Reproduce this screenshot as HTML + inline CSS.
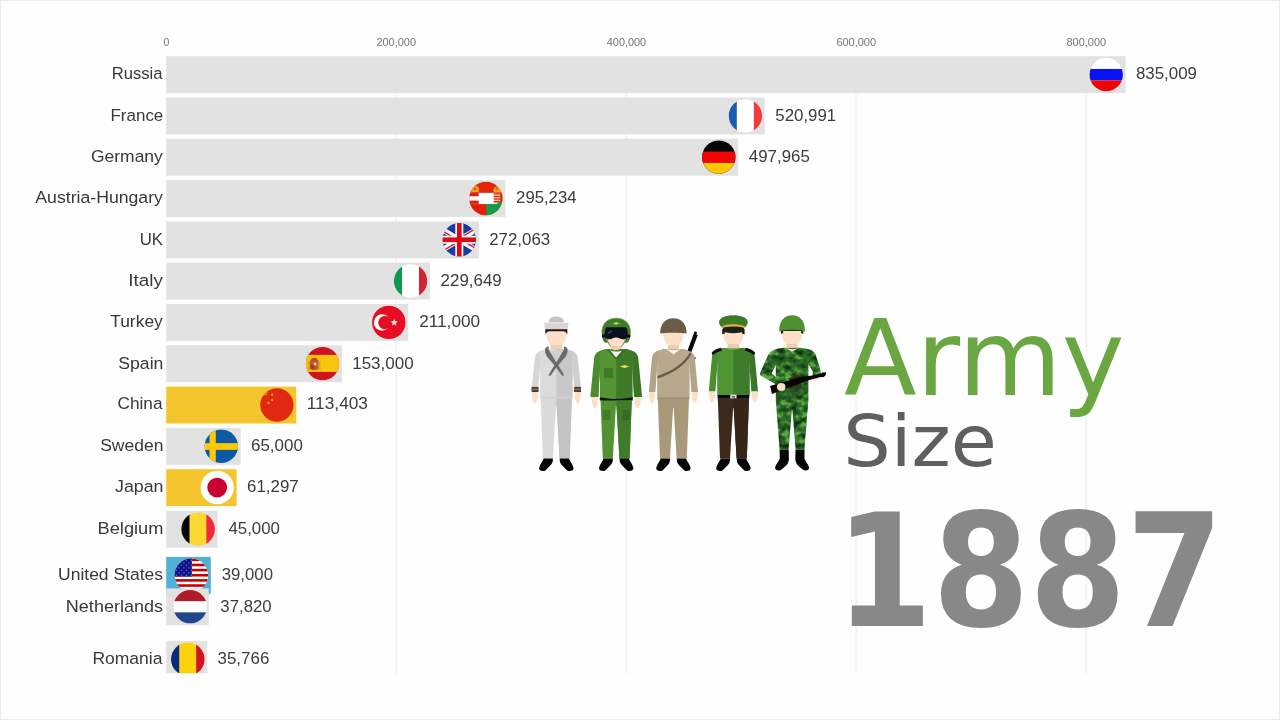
<!DOCTYPE html>
<html lang="en">
<head>
<meta charset="utf-8">
<title>Army Size 1887</title>
<style>
html,body{margin:0;padding:0;background:#fff;overflow:hidden;}
body{width:1280px;height:720px;overflow:hidden;position:relative;}
svg{display:block;position:absolute;left:0;top:0;}
text{white-space:pre;}
.lbl{font-family:"Liberation Sans",sans-serif;font-size:16.7px;fill:#383838;}
.val{font-family:"Liberation Sans",sans-serif;font-size:16.7px;fill:#3c3c3c;}
.tick{font-family:"Liberation Sans",sans-serif;font-size:10.5px;fill:#757575;}
.t1{font-family:"DejaVu Sans","Liberation Sans",sans-serif;font-size:105.3px;fill:#6aa641;}
.t2{font-family:"DejaVu Sans","Liberation Sans",sans-serif;font-size:72px;fill:#5f5f5f;}
.t3{font-family:"DejaVu Sans","Liberation Sans",sans-serif;font-weight:bold;font-size:156.8px;fill:#888;}
</style>
</head>
<body>
<svg width="1280" height="720" viewBox="0 0 1280 720">
<defs>
<clipPath id="plot"><rect x="0" y="0" width="1280" height="673.3"/></clipPath>
<clipPath id="circ"><circle cx="0" cy="0" r="16.7"/></clipPath>
</defs>
<rect x="0" y="0" width="1280" height="720" fill="#fefefe"/>
<rect x="0.5" y="0.5" width="1279" height="719" fill="none" stroke="#ebebeb" stroke-width="1"/>
<g fill="#f3f3f3">
<rect x="395.3" y="55" width="2" height="618.3"/>
<rect x="625.3" y="55" width="2" height="618.3"/>
<rect x="855.3" y="55" width="2" height="618.3"/>
<rect x="1085.3" y="55" width="2" height="618.3"/>
</g>
<g class="tick">
<text x="163.4" y="46" textLength="5.8" lengthAdjust="spacingAndGlyphs">0</text>
<text x="376.4" y="46" textLength="39.7" lengthAdjust="spacingAndGlyphs">200,000</text>
<text x="606.8" y="46" textLength="39.4" lengthAdjust="spacingAndGlyphs">400,000</text>
<text x="836.4" y="46" textLength="39.7" lengthAdjust="spacingAndGlyphs">600,000</text>
<text x="1066.5" y="46" textLength="39.6" lengthAdjust="spacingAndGlyphs">800,000</text>
</g>
<g clip-path="url(#plot)">
<rect x="166.2" y="56.20" width="959.4" height="36.9" fill="#e2e2e2"/><g transform="translate(1106.2 74.55)"><g clip-path="url(#circ)"><rect x="-17" y="-17" width="34" height="34" fill="#fff"/><rect x="-17" y="-5.6" width="34" height="11.30" fill="#0a14f2"/><rect x="-17" y="5.7" width="34" height="11.30" fill="#ee0606"/></g></g>
<rect x="166.2" y="97.50" width="598.6" height="36.9" fill="#e2e2e2"/><g transform="translate(745.4 115.85)"><g clip-path="url(#circ)"><rect x="-17" y="-17" width="34" height="34" fill="#fff"/><rect x="-17" y="-17" width="8.40" height="34" fill="#1c5cb0"/><rect x="8.4" y="-17" width="8.60" height="34" fill="#f03c3c"/></g></g>
<rect x="166.2" y="138.80" width="572.0" height="36.9" fill="#e2e2e2"/><g transform="translate(718.8 157.15)"><g clip-path="url(#circ)"><rect x="-17" y="-17" width="34" height="34" fill="#050505"/><rect x="-17" y="-5.6" width="34" height="11.30" fill="#ee0606"/><rect x="-17" y="5.7" width="34" height="11.30" fill="#fcc900"/></g></g>
<rect x="166.2" y="180.10" width="339.1" height="36.9" fill="#e2e2e2"/><g transform="translate(485.9 198.45)"><g clip-path="url(#circ)"><rect x="-17" y="-17" width="34" height="34" fill="#e2260c"/><rect x="-17" y="5.6" width="17.2" height="12" fill="#e2200c"/><rect x="0.2" y="5.6" width="17" height="12" fill="#169a4a"/><rect x="-17" y="-5.6" width="34" height="11.2" fill="#fff"/><rect x="-16.4" y="-5.4" width="9.2" height="3.2" fill="#d8200c"/><rect x="-16.4" y="2.2" width="9.2" height="3.2" fill="#d8200c"/><rect x="7.8" y="-5.6" width="9" height="11" fill="#f6c8b4"/><rect x="7.8" y="-5.2" width="7" height="1.3" fill="#d8300c"/><rect x="7.8" y="-2.6" width="7" height="1.3" fill="#d8300c"/><rect x="7.8" y="0.0" width="7" height="1.3" fill="#d8300c"/><rect x="7.8" y="2.6" width="7" height="1.3" fill="#d8300c"/><rect x="14.4" y="-5.6" width="2.6" height="9" fill="#c8280c"/><path d="M13,3.6 L17,3.6 L17,5.6 L11,5.6 Z" fill="#3f8a3a"/><path d="M-14.6,-6.4 C-15,-9.6 -13,-12 -10.4,-12.6 C-8.4,-12.6 -6.8,-11 -6.8,-8.6 L-7.4,-6.4 Z" fill="#f2a51c"/><circle cx="-10.8" cy="-9.6" r="1.3" fill="#e04a10"/><path d="M7.8,-6.4 C7,-9 8.4,-11.6 10.6,-12 C13,-11.6 15.4,-9.6 16,-6.4 Z" fill="#f2a51c"/><circle cx="10.8" cy="-10" r="1.3" fill="#e8561c"/></g></g>
<rect x="166.2" y="221.40" width="312.7" height="36.9" fill="#e2e2e2"/><g transform="translate(459.3 239.75)"><g clip-path="url(#circ)"><rect x="-17" y="-17" width="34" height="34" fill="#173c9f"/><path d="M-28.3,-17 L28.3,17 M28.3,-17 L-28.3,17" stroke="#fff" stroke-width="5.2" fill="none"/><path d="M-28.3,-17 L0,0" stroke="#cf2438" stroke-width="1.5" transform="translate(-0.6 0.9)"/><path d="M0,0 L28.3,17" stroke="#cf2438" stroke-width="1.5" transform="translate(0.6 -0.9)"/><path d="M28.3,-17 L0,0" stroke="#cf2438" stroke-width="1.5" transform="translate(-0.6 -0.9)"/><path d="M0,0 L-28.3,17" stroke="#cf2438" stroke-width="1.5" transform="translate(0.6 0.9)"/><rect x="-4" y="-17" width="8" height="34" fill="#fff"/><rect x="-17" y="-4" width="34" height="8" fill="#fff"/><rect x="-2.35" y="-17" width="4.7" height="34" fill="#e00612"/><rect x="-17" y="-2.35" width="34" height="4.7" fill="#e00612"/></g></g>
<rect x="166.2" y="262.70" width="263.8" height="36.9" fill="#e2e2e2"/><g transform="translate(410.6 281.05)"><g clip-path="url(#circ)"><rect x="-17" y="-17" width="34" height="34" fill="#fff"/><rect x="-17" y="-17" width="8.40" height="34" fill="#0f994c"/><rect x="8.4" y="-17" width="8.60" height="34" fill="#cf2636"/></g></g>
<rect x="166.2" y="304.00" width="242.0" height="36.9" fill="#e2e2e2"/><g transform="translate(388.8 322.35)"><g clip-path="url(#circ)"><rect x="-17" y="-17" width="34" height="34" fill="#e80c22"/><circle cx="-6.8" cy="0.2" r="8.2" fill="#fff"/><circle cx="-4" cy="0.2" r="6.6" fill="#e80c22"/><polygon points="8.82,-0.81 6.94,0.80 7.52,3.21 5.40,1.92 3.28,3.21 3.86,0.80 1.98,-0.81 4.45,-1.01 5.40,-3.30 6.35,-1.01" fill="#fff"/></g></g>
<rect x="166.2" y="345.30" width="175.7" height="36.9" fill="#e2e2e2"/><g transform="translate(322.5 363.65)"><g clip-path="url(#circ)"><rect x="-17" y="-17" width="34" height="34" fill="#cf1320"/><rect x="-17" y="-8.8" width="34" height="17.10" fill="#f8c40e"/><rect x="-12.6" y="-4.6" width="8.6" height="11" rx="2.4" fill="#b9582a"/><rect x="-14.4" y="-2.6" width="1.8" height="9" fill="#d8a02a"/><rect x="-3.6" y="-2.6" width="1.6" height="9" fill="#d8a02a"/><rect x="-11" y="-5.6" width="5.4" height="2.4" rx="1" fill="#b8481c"/><circle cx="-7.4" cy="0.4" r="1.6" fill="#e8d0c0"/><rect x="-11.6" y="1" width="3.4" height="4" fill="#a83a20"/></g></g>
<rect x="166.2" y="386.60" width="130.1" height="36.9" fill="#f5c52d"/><g transform="translate(276.9 404.95)"><g clip-path="url(#circ)"><rect x="-17" y="-17" width="34" height="34" fill="#e02a10"/><polygon points="-11.60,-15.00 -10.80,-12.70 -8.37,-12.65 -10.31,-11.18 -9.60,-8.85 -11.60,-10.24 -13.60,-8.85 -12.89,-11.18 -14.83,-12.65 -12.40,-12.70" fill="#f0901c"/><circle cx="-4.8" cy="-10.3" r="1.25" fill="#fb8a3c"/><circle cx="-4.7" cy="-5" r="1.25" fill="#fb8a3c"/><circle cx="-8.4" cy="-1.9" r="1.25" fill="#fb8a3c"/></g></g>
<rect x="166.2" y="427.90" width="74.5" height="36.9" fill="#e2e2e2"/><g transform="translate(221.3 446.25)"><g clip-path="url(#circ)"><rect x="-17" y="-17" width="34" height="34" fill="#0c5aa6"/><rect x="-11.8" y="-17" width="6.30" height="34" fill="#fdc902"/><rect x="-17" y="-3.1" width="34" height="6.70" fill="#fdc902"/></g></g>
<rect x="166.2" y="469.20" width="70.4" height="36.9" fill="#f5c52d"/><g transform="translate(217.2 487.55)"><g clip-path="url(#circ)"><rect x="-17" y="-17" width="34" height="34" fill="#fff"/><circle cx="0" cy="0" r="9.9" fill="#cb0032"/></g></g>
<rect x="166.2" y="510.80" width="51.3" height="36.9" fill="#e2e2e2"/><g transform="translate(198.1 529.15)"><g clip-path="url(#circ)"><rect x="-17" y="-17" width="34" height="34" fill="#fbd930"/><rect x="-17" y="-17" width="8.40" height="34" fill="#060606"/><rect x="8.3" y="-17" width="8.70" height="34" fill="#ee2a3e"/></g></g>
<rect x="166.2" y="556.90" width="44.6" height="36.9" fill="#4fb1d8"/><g transform="translate(191.4 575.25)"><g clip-path="url(#circ)"><rect x="-17" y="-17" width="34" height="34" fill="#fff"/><rect x="-17" y="-16.70" width="34" height="2.57" fill="#c40202"/><rect x="-17" y="-11.56" width="34" height="2.57" fill="#c40202"/><rect x="-17" y="-6.42" width="34" height="2.57" fill="#c40202"/><rect x="-17" y="-1.28" width="34" height="2.57" fill="#c40202"/><rect x="-17" y="3.85" width="34" height="2.57" fill="#c40202"/><rect x="-17" y="8.99" width="34" height="2.57" fill="#c40202"/><rect x="-17" y="14.13" width="34" height="2.57" fill="#c40202"/><rect x="-17" y="-17" width="17.4" height="18.28" fill="#10107e"/><rect x="-15.6" y="-15.6" width="1.3" height="1.3" fill="#6c6cf0"/><rect x="-10.6" y="-15.6" width="1.3" height="1.3" fill="#6c6cf0"/><rect x="-5.6" y="-15.6" width="1.3" height="1.3" fill="#6c6cf0"/><rect x="-0.6" y="-15.6" width="1.3" height="1.3" fill="#6c6cf0"/><rect x="-13.1" y="-13.1" width="1.3" height="1.3" fill="#6c6cf0"/><rect x="-8.1" y="-13.1" width="1.3" height="1.3" fill="#6c6cf0"/><rect x="-3.1" y="-13.1" width="1.3" height="1.3" fill="#6c6cf0"/><rect x="-15.6" y="-10.6" width="1.3" height="1.3" fill="#6c6cf0"/><rect x="-10.6" y="-10.6" width="1.3" height="1.3" fill="#6c6cf0"/><rect x="-5.6" y="-10.6" width="1.3" height="1.3" fill="#6c6cf0"/><rect x="-0.6" y="-10.6" width="1.3" height="1.3" fill="#6c6cf0"/><rect x="-13.1" y="-8.1" width="1.3" height="1.3" fill="#6c6cf0"/><rect x="-8.1" y="-8.1" width="1.3" height="1.3" fill="#6c6cf0"/><rect x="-3.1" y="-8.1" width="1.3" height="1.3" fill="#6c6cf0"/><rect x="-15.6" y="-5.6" width="1.3" height="1.3" fill="#6c6cf0"/><rect x="-10.6" y="-5.6" width="1.3" height="1.3" fill="#6c6cf0"/><rect x="-5.6" y="-5.6" width="1.3" height="1.3" fill="#6c6cf0"/><rect x="-0.6" y="-5.6" width="1.3" height="1.3" fill="#6c6cf0"/><rect x="-13.1" y="-3.1" width="1.3" height="1.3" fill="#6c6cf0"/><rect x="-8.1" y="-3.1" width="1.3" height="1.3" fill="#6c6cf0"/><rect x="-3.1" y="-3.1" width="1.3" height="1.3" fill="#6c6cf0"/><rect x="-15.6" y="-0.6" width="1.3" height="1.3" fill="#6c6cf0"/><rect x="-10.6" y="-0.6" width="1.3" height="1.3" fill="#6c6cf0"/><rect x="-5.6" y="-0.6" width="1.3" height="1.3" fill="#6c6cf0"/><rect x="-0.6" y="-0.6" width="1.3" height="1.3" fill="#6c6cf0"/></g></g>
<rect x="166.2" y="588.40" width="42.6" height="36.9" fill="#e2e2e2"/><g transform="translate(190.2 606.75)"><g clip-path="url(#circ)"><rect x="-17" y="-17" width="34" height="34" fill="#fff"/><rect x="-17" y="-17" width="34" height="11.40" fill="#ae1c2a"/><rect x="-17" y="5.6" width="34" height="11.40" fill="#21468c"/></g></g>
<rect x="166.2" y="640.90" width="41.0" height="36.9" fill="#e2e2e2"/><g transform="translate(187.8 659.25)"><g clip-path="url(#circ)"><rect x="-17" y="-17" width="34" height="34" fill="#fcd20e"/><rect x="-17" y="-17" width="8.40" height="34" fill="#062a80"/><rect x="8.4" y="-17" width="8.60" height="34" fill="#d21228"/></g></g>
</g>
<g class="lbl">
<text x="111.7" y="79" textLength="50.9" lengthAdjust="spacingAndGlyphs">Russia</text>
<text x="110.5" y="121" textLength="52.8" lengthAdjust="spacingAndGlyphs">France</text>
<text x="91.0" y="162" textLength="71.8" lengthAdjust="spacingAndGlyphs">Germany</text>
<text x="35.3" y="203" textLength="127.6" lengthAdjust="spacingAndGlyphs">Austria-Hungary</text>
<text x="139.7" y="245" textLength="23.3" lengthAdjust="spacingAndGlyphs">UK</text>
<text x="128.3" y="286" textLength="34.6" lengthAdjust="spacingAndGlyphs">Italy</text>
<text x="110.2" y="327" textLength="52.6" lengthAdjust="spacingAndGlyphs">Turkey</text>
<text x="118.3" y="369" textLength="45.1" lengthAdjust="spacingAndGlyphs">Spain</text>
<text x="117.5" y="409" textLength="45.0" lengthAdjust="spacingAndGlyphs">China</text>
<text x="100.2" y="451" textLength="63.2" lengthAdjust="spacingAndGlyphs">Sweden</text>
<text x="115.0" y="492" textLength="48.4" lengthAdjust="spacingAndGlyphs">Japan</text>
<text x="97.5" y="534" textLength="66.0" lengthAdjust="spacingAndGlyphs">Belgium</text>
<text x="58.0" y="580" textLength="105.1" lengthAdjust="spacingAndGlyphs">United States</text>
<text x="65.8" y="612" textLength="97.3" lengthAdjust="spacingAndGlyphs">Netherlands</text>
<text x="92.4" y="664" textLength="70.1" lengthAdjust="spacingAndGlyphs">Romania</text>
</g>
<g class="val">
<text x="1135.9" y="79" textLength="61.1" lengthAdjust="spacingAndGlyphs">835,009</text>
<text x="775.3" y="121" textLength="60.9" lengthAdjust="spacingAndGlyphs">520,991</text>
<text x="748.8" y="162" textLength="61.0" lengthAdjust="spacingAndGlyphs">497,965</text>
<text x="516.1" y="203" textLength="60.4" lengthAdjust="spacingAndGlyphs">295,234</text>
<text x="489.2" y="245" textLength="61.0" lengthAdjust="spacingAndGlyphs">272,063</text>
<text x="440.6" y="286" textLength="61.2" lengthAdjust="spacingAndGlyphs">229,649</text>
<text x="419.2" y="327" textLength="60.9" lengthAdjust="spacingAndGlyphs">211,000</text>
<text x="352.2" y="369" textLength="61.5" lengthAdjust="spacingAndGlyphs">153,000</text>
<text x="306.8" y="409" textLength="61.2" lengthAdjust="spacingAndGlyphs">113,403</text>
<text x="251.0" y="451" textLength="51.9" lengthAdjust="spacingAndGlyphs">65,000</text>
<text x="247.0" y="492" textLength="51.7" lengthAdjust="spacingAndGlyphs">61,297</text>
<text x="228.4" y="534" textLength="51.6" lengthAdjust="spacingAndGlyphs">45,000</text>
<text x="221.7" y="580" textLength="51.3" lengthAdjust="spacingAndGlyphs">39,000</text>
<text x="220.3" y="612" textLength="51.4" lengthAdjust="spacingAndGlyphs">37,820</text>
<text x="217.5" y="664" textLength="51.8" lengthAdjust="spacingAndGlyphs">35,766</text>
</g>
<g id="soldiers">
<rect x="622" y="318.6" width="9" height="152.8" fill="#fefefe"/>
<g transform="translate(556.3 0)"><rect x="-5.4" y="342" width="10.8" height="9" fill="#efcdb0"/><path d="M-10.2,328.0 L10.2,328.0 L10.2,334.0 C10,339.0 8,343.0 5,345.6 C3.4,347.0 1.6,347.6 0,347.6 C-1.6,347.6 -3.4,347.0 -5,345.6 C-8,343.0 -10,339.0 -10.2,334.0 Z" fill="#fbdfc6"/><path d="M-9,349.2 C-15,350.0 -20.6,351.6 -21.4,357.5 L-24.6,387.2 L-18,387.2 L-16,364 Z" fill="#d6d6d6"/><path d="M9,349.2 C15,350.0 20.6,351.6 21.4,357.5 L24.6,387.2 L18,387.2 L16,364 Z" fill="#cfcfcf"/><path d="M-9.5,349.0 C-13,349.6 -16.2,351.0 -16.2,356.0 L-16.2,398.2 L16.2,398.2 L16.2,356.0 C16.2,351.0 13,349.6 9.5,349.0 Z" fill="#dcdcdc"/><path d="M9.5,349.0 C13,349.6 16.2,351.0 16.2,356.0 L16.2,398.2 L0,398.2 L0,349.0 Z" fill="#c8c8c8"/><path d="M-8.6,349.4 L0,364.5 L8.6,349.4 C4,351.4 -4,351.4 -8.6,349.4 Z" fill="#cfcfcf"/><path d="M-5.4,348 C-2,350.4 2,350.4 5.4,348 L5.4,345 L-5.4,345 Z" fill="#efcdb0"/><path d="M-11.2,349 C-10.6,347.4 -9,346.6 -7.4,346.6 L-7.8,349.2 L0,362.4 L7.8,349.2 L7.4,346.6 C9,346.6 10.6,347.4 11.2,349 C11.6,352 10.6,354.4 9.4,356.4 L2,365.2 L8,375.4 L5.8,375.8 L0,367.4 L-5.8,375.8 L-8,375.4 L-2,365.2 L-9.4,356.4 C-10.6,354.4 -11.6,352 -11.2,349 Z" fill="#6b6b6b"/><rect x="-24.7" y="386.9" width="6.9" height="5.2" fill="#4b3d36"/><rect x="17.8" y="386.9" width="6.9" height="5.2" fill="#4b3d36"/><rect x="-24.7" y="388.6" width="6.9" height="1.6" fill="#7a6a60"/><rect x="17.8" y="388.6" width="6.9" height="1.6" fill="#7a6a60"/><path d="M-24.4,392.0 L-18.6,392.0 L-18.4,397.0 C-18.6,400.0 -20,402.0 -21.6,404.0 C-23.4,401.0 -24.8,398.0 -24.4,392.0 Z" fill="#fbdfc6"/><path d="M24.4,392.0 L18.6,392.0 L18.4,397.0 C18.6,400.0 20,402.0 21.6,404.0 C23.4,401.0 24.8,398.0 24.4,392.0 Z" fill="#fbdfc6"/><path d="M-15.6,398.0 L15.6,398.0 L13.4,458.6 L3.2,458.6 L0.3,406.0 L-0.3,406.0 L-3.4,458.6 L-13.4,458.6 Z" fill="#dadada"/><path d="M15.6,398.0 L0,398.0 L0,406.0 L0.3,406.0 L3.2,458.6 L13.4,458.6 Z" fill="#c3c3c3"/><rect x="-16" y="396.6" width="32" height="2" fill="#d2d2d2"/><path d="M-12.6,458.6 L-3.4,458.6 C-3.2,461.6 -4,463.6 -6,465.6 L-10.6,470.20000000000005 C-12.6,471.8 -17.6,471.20000000000005 -17.2,468.0 C-16.6,464.6 -13.6,461.6 -12.6,458.6 Z" fill="#060606"/><path d="M12.6,458.6 L3.4,458.6 C3.2,461.6 4,463.6 6,465.6 L10.6,470.20000000000005 C12.6,471.8 17.6,471.20000000000005 17.2,468.0 C16.6,464.6 13.6,461.6 12.6,458.6 Z" fill="#060606"/><path d="M-11,329 L11,329 L11,334.6 C10,332.6 9,331.4 7,331.2 L-7,331.2 C-9,331.4 -10,332.6 -11,334.6 Z" fill="#2a1712"/><path d="M-7.8,322.6 C-7.6,318 -4,316.4 0,316.4 C4,316.4 7.6,318 7.8,322.6 Z" fill="#c4c4c4"/><path d="M-12.2,322.4 C-8,323.4 8,323.4 12.2,322.4 L11.4,329.2 L-11.4,329.2 Z" fill="#d6d6d6"/></g>
<g transform="translate(616.2 0)"><path d="M-14.3,333 C-14.5,323.4 -8.6,318.2 0,318.2 C8.6,318.2 14.5,323.4 14.3,333 C14.3,338 13.2,341.6 10.8,342.8 L-10.8,342.8 C-13.2,341.6 -14.3,338 -14.3,333 Z" fill="#3f7c2a"/><path d="M-14.3,333 C-14.5,323.4 -8.6,318.2 0,318.2 C8.6,318.2 14.5,323.4 14.3,333" fill="none" stroke="#5a9a3a" stroke-width="0.7"/><rect x="-5.4" y="344" width="10.8" height="9" fill="#efcdb0"/><path d="M-10.2,330 L10.2,330 L10.2,336 C10,341 8,344.79999999999995 5,347.4 C3.4,348.79999999999995 1.6,349.4 0,349.4 C-1.6,349.4 -3.4,348.79999999999995 -5,347.4 C-8,344.79999999999995 -10,341 -10.2,336 Z" fill="#fbdfc6"/><path d="M-9.4,338 C-8.6,343 -6,346.6 -3,348.6 L3,348.6 C6,346.6 8.6,343 9.4,338" fill="none" stroke="#3a4a22" stroke-width="0.7"/><rect x="-2.8" y="347.8" width="5.6" height="1.6" rx="0.8" fill="#2c3a1c"/><path d="M-9,349.2 C-15,350 -21,351.6 -22,357.5 L-25.9,397 L-17.8,397 L-16,364 Z" fill="#4c8b30"/><path d="M9,349.2 C15,350 21,351.6 22,357.5 L25.9,397 L17.8,397 L16,364 Z" fill="#3a7626"/><path d="M-9,349.2 C-15,350.0 -20.6,351.6 -21.4,357.5 L-24.6,397.0 L-18,397.0 L-16,364 Z" fill="#4c8b30"/><path d="M9,349.2 C15,350.0 20.6,351.6 21.4,357.5 L24.6,397.0 L18,397.0 L16,364 Z" fill="#3a7626"/><path d="M-9.5,349.0 C-13,349.6 -16.2,351.0 -16.2,356.0 L-16.2,398.6 L16.2,398.6 L16.2,356.0 C16.2,351.0 13,349.6 9.5,349.0 Z" fill="#559535"/><path d="M9.5,349.0 C13,349.6 16.2,351.0 16.2,356.0 L16.2,398.6 L0,398.6 L0,349.0 Z" fill="#3e7a28"/><path d="M-7.4,350 L0,358.4 L7.4,350 C3,352 -3,352 -7.4,350 Z" fill="#f4f4f0"/><path d="M-10,349.2 L-7,349.2 L0.4,358 L-0.6,359.6 Z" fill="#3c7826"/><path d="M10,349.2 L7,349.2 L-0.4,358 L0.6,359.6 Z" fill="#356f22"/><path d="M-5.2,348.4 C-2,350.4 2,350.4 5.2,348.4 L5.2,346 L-5.2,346 Z" fill="#efcdb0"/><rect x="-12.2" y="368" width="9" height="10.2" fill="#3f7a28"/><path d="M3.6,366.6 C6,365.6 7.6,365.6 8.4,364.8 C9.2,365.6 10.8,365.6 13.2,366.6 C10.8,367.6 9.4,367.4 8.4,368.2 C7.4,367.4 6,367.6 3.6,366.6 Z" fill="#e9d84a"/><path d="M-16.4,397.2 C-8,399 8,399 16.6,397.2 L16.6,400.6 C8,402.4 -8,402.4 -16.4,400.6 Z" fill="#0c1a0a"/><path d="M-24.4,397.0 L-18.6,397.0 L-18.4,402.0 C-18.6,405.0 -20,407.0 -21.6,409.0 C-23.4,406.0 -24.8,403.0 -24.4,397.0 Z" fill="#fbdfc6"/><path d="M24.4,397.0 L18.6,397.0 L18.4,402.0 C18.6,405.0 20,407.0 21.6,409.0 C23.4,406.0 24.8,403.0 24.4,397.0 Z" fill="#fbdfc6"/><path d="M-15.6,400.6 L15.6,400.6 L13.4,458.6 L3.2,458.6 L0.3,406.0 L-0.3,406.0 L-3.4,458.6 L-13.4,458.6 Z" fill="#529233"/><path d="M15.6,400.6 L0,400.6 L0,406.0 L0.3,406.0 L3.2,458.6 L13.4,458.6 Z" fill="#3f7c29"/><rect x="-13.4" y="410" width="7.4" height="10" fill="#3f7a28" opacity="0.85"/><rect x="6.2" y="410" width="7.6" height="10" fill="#336b20" opacity="0.85"/><path d="M-12.6,458.6 L-3.4,458.6 C-3.2,461.6 -4,463.6 -6,465.6 L-10.6,470.20000000000005 C-12.6,471.8 -17.6,471.20000000000005 -17.2,468.0 C-16.6,464.6 -13.6,461.6 -12.6,458.6 Z" fill="#060606"/><path d="M12.6,458.6 L3.4,458.6 C3.2,461.6 4,463.6 6,465.6 L10.6,470.20000000000005 C12.6,471.8 17.6,471.20000000000005 17.2,468.0 C16.6,464.6 13.6,461.6 12.6,458.6 Z" fill="#060606"/><rect x="-14.2" y="334.6" width="28.4" height="2.8" rx="1" fill="#070a10"/><path d="M-11,329 C-10.8,327.6 -9.6,327.2 -8,327.2 L8,327.2 C9.6,327.2 10.8,327.6 11,329 L11.6,335 C11.4,338.4 9.4,339.4 6.2,339.3 C3.6,339.3 1.6,337.2 0,336.6 C-1.6,337.2 -3.6,339.3 -6.2,339.3 C-9.4,339.4 -11.4,338.4 -11.6,335 Z" fill="#0b1020"/><path d="M-8.6,332.6 L-4.6,330.4 L-3.8,331.4 L-8,333.8 Z" fill="#4a5468"/><path d="M-4.2,323.6 C-1.6,323 -0.8,322.8 0,321.8 C0.8,322.8 1.6,323 4.2,323.6 C1.6,324.6 0.8,324.4 0,325 C-0.8,324.4 -1.6,324.6 -4.2,323.6 Z" fill="#b9d64a"/></g>
<g transform="translate(673.4 0)"><path d="M21.2,331.2 L23.6,332.2 L23,334.4 L24.4,335 L17.4,353.6 L13.6,352 Z" fill="#0a0a0a"/><path d="M20.6,357 L22.4,357.6 L21.8,359.6 L20,359 Z" fill="#0a0a0a"/><rect x="-5.4" y="342" width="10.8" height="9" fill="#efcdb0"/><path d="M-10.2,328.0 L10.2,328.0 L10.2,334.0 C10,339.0 8,343.0 5,345.6 C3.4,347.0 1.6,347.6 0,347.6 C-1.6,347.6 -3.4,347.0 -5,345.6 C-8,343.0 -10,339.0 -10.2,334.0 Z" fill="#fbdfc6"/><path d="M-9,349.2 C-15,350.0 -20.6,351.6 -21.4,357.5 L-24.6,392.0 L-18,392.0 L-16,364 Z" fill="#b3a388"/><path d="M9,349.2 C15,350.0 20.6,351.6 21.4,357.5 L24.6,392.0 L18,392.0 L16,364 Z" fill="#b3a388"/><path d="M-9.5,349.0 C-13,349.6 -16.2,351.0 -16.2,356.0 L-16.2,398.4 L16.2,398.4 L16.2,356.0 C16.2,351.0 13,349.6 9.5,349.0 Z" fill="#b8a88d"/><path d="M-7.2,349 L0,354.4 L7.2,349 C3,350.4 -3,350.4 -7.2,349 Z" fill="#f4f2ee"/><path d="M-5.4,347.6 C-2,349.8 2,349.8 5.4,347.6 L5.4,345 L-5.4,345 Z" fill="#efcdb0"/><path d="M16.4,352.4 L18,354.6 C12,365 0,373.6 -15.8,378.6 L-15.8,376 C-1,371 11,362.6 16.4,352.4 Z" fill="#6b5946"/><path d="M-24.4,392.0 L-18.6,392.0 L-18.4,397.0 C-18.6,400.0 -20,402.0 -21.6,404.0 C-23.4,401.0 -24.8,398.0 -24.4,392.0 Z" fill="#fbdfc6"/><path d="M24.4,392.0 L18.6,392.0 L18.4,397.0 C18.6,400.0 20,402.0 21.6,404.0 C23.4,401.0 24.8,398.0 24.4,392.0 Z" fill="#fbdfc6"/><path d="M-15.6,398.2 L15.6,398.2 L13.4,458.6 L3.2,458.6 L0.3,408 L-0.3,408 L-3.4,458.6 L-13.4,458.6 Z" fill="#a99979"/><rect x="-15.8" y="397.6" width="31.6" height="1.4" fill="#9c8c6e"/><path d="M-12.6,458.6 L-3.4,458.6 C-3.2,461.6 -4,463.6 -6,465.6 L-10.6,470.20000000000005 C-12.6,471.8 -17.6,471.20000000000005 -17.2,468.0 C-16.6,464.6 -13.6,461.6 -12.6,458.6 Z" fill="#060606"/><path d="M12.6,458.6 L3.4,458.6 C3.2,461.6 4,463.6 6,465.6 L10.6,470.20000000000005 C12.6,471.8 17.6,471.20000000000005 17.2,468.0 C16.6,464.6 13.6,461.6 12.6,458.6 Z" fill="#060606"/><path d="M-13.2,333.6 C-13.4,323.6 -8,318.2 0,318.2 C8,318.2 13.4,323.6 13.2,333.6 C8,332.4 -8,332.4 -13.2,333.6 Z" fill="#6a5d48"/></g>
<g transform="translate(733.4 0)"><rect x="-5.4" y="342" width="10.8" height="9" fill="#efcdb0"/><path d="M-10.2,328.0 L10.2,328.0 L10.2,334.0 C10,339.0 8,343.0 5,345.6 C3.4,347.0 1.6,347.6 0,347.6 C-1.6,347.6 -3.4,347.0 -5,345.6 C-8,343.0 -10,339.0 -10.2,334.0 Z" fill="#fbdfc6"/><path d="M-11.2,329 L-8.6,329 L-8.6,333.6 L-11.2,334.6 Z" fill="#2a1a14"/><path d="M11.2,329 L8.6,329 L8.6,333.6 L11.2,334.6 Z" fill="#2a1a14"/><path d="M-9,348.09999999999997 C-15,348.9 -20.6,350.5 -21.4,356.4 L-24.6,391.4 L-18,391.4 L-16,364 Z" fill="#4a8e32"/><path d="M9,348.09999999999997 C15,348.9 20.6,350.5 21.4,356.4 L24.6,391.4 L18,391.4 L16,364 Z" fill="#397628"/><path d="M-9.5,347.9 C-13,348.5 -16.2,349.9 -16.2,354.9 L-16.2,395.4 L16.2,395.4 L16.2,354.9 C16.2,349.9 13,348.5 9.5,347.9 Z" fill="#509534"/><path d="M9.5,347.9 C13,348.5 16.2,349.9 16.2,354.9 L16.2,395.4 L0,395.4 L0,347.9 Z" fill="#3c7c2a"/><path d="M-5.6,347.2 C-2,348.4 2,348.4 5.6,347.2 L5.6,344 L-5.6,344 Z" fill="#efcdb0"/><path d="M-6.4,347.2 C-3,348.6 3,348.6 6.4,347.2 L6.4,348.8 C3,350 -3,350 -6.4,348.8 Z" fill="#8ab86a"/><path d="M-21.8,352.8 C-20,350.2 -16,348.6 -12.4,347.8 L-11.6,350.8 C-15,351.8 -18.4,353.2 -20.6,355.2 Z" fill="#0e0e0e"/><path d="M21.8,352.8 C20,350.2 16,348.6 12.4,347.8 L11.6,350.8 C15,351.8 18.4,353.2 20.6,355.2 Z" fill="#0e0e0e"/><rect x="-15.8" y="395" width="31.6" height="3.8" fill="#0a0a0a"/><rect x="-3.2" y="394.6" width="6.4" height="4.6" fill="#d8d8d8"/><rect x="-1.6" y="396.2" width="3.2" height="1.4" fill="#555"/><path d="M-24.4,391.4 L-18.6,391.4 L-18.4,396.4 C-18.6,399.4 -20,401.4 -21.6,403.4 C-23.4,400.4 -24.8,397.4 -24.4,391.4 Z" fill="#fbdfc6"/><path d="M24.4,391.4 L18.6,391.4 L18.4,396.4 C18.6,399.4 20,401.4 21.6,403.4 C23.4,400.4 24.8,397.4 24.4,391.4 Z" fill="#fbdfc6"/><path d="M-15.6,398.6 L15.6,398.6 L13.4,458.6 L3.2,458.6 L0.3,408 L-0.3,408 L-3.4,458.6 L-13.4,458.6 Z" fill="#3b2a1b"/><path d="M15.6,398.6 L0,398.6 L0,408 L0.3,408 L3.2,458.6 L13.4,458.6 Z" fill="#36261a"/><path d="M-12.6,458.6 L-3.4,458.6 C-3.2,461.6 -4,463.6 -6,465.6 L-10.6,470.20000000000005 C-12.6,471.8 -17.6,471.20000000000005 -17.2,468.0 C-16.6,464.6 -13.6,461.6 -12.6,458.6 Z" fill="#060606"/><path d="M12.6,458.6 L3.4,458.6 C3.2,461.6 4,463.6 6,465.6 L10.6,470.20000000000005 C12.6,471.8 17.6,471.20000000000005 17.2,468.0 C16.6,464.6 13.6,461.6 12.6,458.6 Z" fill="#060606"/><path d="M-10.6,327.4 C-6,326 6,326 10.6,327.4 L10.2,331.8 C6,333.6 -6,333.6 -10.2,331.8 Z" fill="#1c1f1c"/><path d="M-14.4,322.2 C-14.6,317.6 -7,315.2 0,315.2 C7,315.2 14.6,317.6 14.4,322.2 C14.2,325 12.4,326.8 10.6,327.8 C6,326.4 -6,326.4 -10.6,327.8 C-12.4,326.8 -14.2,325 -14.4,322.2 Z" fill="#3b7c29"/><path d="M-11.6,326.4 C-6,323.4 6,323.4 11.6,326.4 L10.6,327.8 C6,325.6 -6,325.6 -10.6,327.8 Z" fill="#f0ae2c"/></g>
<g transform="translate(792.1 0)"><rect x="-5.4" y="342" width="10.8" height="9" fill="#efcdb0"/><path d="M-10.2,328.0 L10.2,328.0 L10.2,334.0 C10,339.0 8,343.0 5,345.6 C3.4,347.0 1.6,347.6 0,347.6 C-1.6,347.6 -3.4,347.0 -5,345.6 C-8,343.0 -10,339.0 -10.2,334.0 Z" fill="#fbdfc6"/><path d="M-11.2,329 L-9,329 L-9,333 L-11.2,334 Z" fill="#2a1a14"/><path d="M11.2,329 L9,329 L9,333 L11.2,334 Z" fill="#2a1a14"/><filter id="camo" x="-5%" y="-5%" width="110%" height="110%" color-interpolation-filters="sRGB"><feTurbulence type="fractalNoise" baseFrequency="0.13 0.16" numOctaves="2" seed="11" result="n"/><feColorMatrix in="n" type="matrix" values="1.5 0.7 0 0 -0.6  1.5 0.7 0 0 -0.6  1.5 0.7 0 0 -0.6  0 0 0 0 1" result="g"/><feComponentTransfer in="g" result="c"><feFuncR type="discrete" tableValues="0.06 0.08 0.10 0.13 0.15 0.18 0.22 0.30 0.36 0.36"/><feFuncG type="discrete" tableValues="0.20 0.24 0.29 0.35 0.38 0.43 0.48 0.58 0.66 0.66"/><feFuncB type="discrete" tableValues="0.07 0.08 0.10 0.13 0.14 0.16 0.18 0.22 0.26 0.26"/></feComponentTransfer><feGaussianBlur in="c" stdDeviation="0.35" result="cb"/><feComposite in="cb" in2="SourceGraphic" operator="in"/></filter><g filter="url(#camo)"><path d="M-9,347.8 C-13,348.4 -16.3,349.8 -16.3,355 L-16.3,400 L-12.4,450.4 L-3.6,450.4 L-0.3,410 L0.3,410 L3.6,450.4 L12.2,450.4 L16.3,400 L16.3,356 C16.3,349.8 13,348.4 9,347.8 Z" fill="#2f6e28"/><path d="M-12,348.2 C-17,348.8 -21.6,350.6 -23.8,354.8 L-31.8,372.6 C-32.4,374.4 -31.8,375.4 -30.6,376 L-13.6,386 L-11,381 L-20.6,373.4 L-15.8,364 Z" fill="#2f6e28"/><path d="M12,348.2 C17,348.8 21.4,350.4 23.4,354.2 L28,368.6 C28.8,371.6 28.8,374 28,376.4 L20.4,377 L20.8,371.6 L15.8,364 Z" fill="#2f6e28"/></g><path d="M-6.4,348 L0,351.8 L6.4,348 C3,349.6 -3,349.6 -6.4,348 Z" fill="#f2f0e6"/><path d="M-5.4,346.6 C-2,348.8 2,348.8 5.4,346.6 L5.4,344 L-5.4,344 Z" fill="#efcdb0"/><path d="M20.2,377 C22,376 25.4,376 27.4,377 C27.6,379.4 26,381 23.6,381 C21.6,381 20.2,379.4 20.2,377 Z" fill="#fbdfc6"/><path d="M-3.6,378.6 L6.2,375 L8,378.6 L-2.4,382.4 Z" fill="#3a2c26"/><path d="M-3.4,386.6 L9.4,382 L10.6,387.6 L5.4,391.4 L-2,392.4 Z" fill="#26301c" opacity="0.75"/><path d="M-22,385.9 L-14,383.6 L-4,380.8 L6.7,377.2 L20.4,375.5 L29.6,373.2 L30.2,372.4 L33.8,372.2 L34,374.6 L31.8,377 L27.3,377.3 L16.6,380.3 L-5.5,388.4 L-15.1,392 L-20.1,394 Z" fill="#0a0606"/><ellipse cx="-10.9" cy="387" rx="4.3" ry="3.9" fill="#fbdfc6"/><path d="M-14.6,388.4 C-13,391 -9.6,391.6 -7.4,389.6" fill="none" stroke="#e2b896" stroke-width="0.8"/><path d="M-12.4,450.0 L-3.4,450.0 L-3.2,459.0 C-3.4,462.0 -4.4,464.0 -6.4,466.0 L-10.6,469.6 C-12.6,471.2 -17.4,470.6 -17,467.6 C-16.4,464.6 -13.6,461.6 -12.4,459.0 Z" fill="#060606"/><path d="M12.4,450.0 L3.4,450.0 L3.2,459.0 C3.4,462.0 4.4,464.0 6.4,466.0 L10.6,469.6 C12.6,471.2 17.4,470.6 17,467.6 C16.4,464.6 13.6,461.6 12.4,459.0 Z" fill="#060606"/><path d="M-12.8,331.4 C-13.2,321 -8,315.2 0,315.2 C8,315.2 13.2,321 12.8,331.4 C8,329.8 -8,329.8 -12.8,331.4 Z" fill="#4f9030"/><path d="M-10,330.4 C-6,329.6 6,329.6 10,330.4 L10,331 L-10,331 Z" fill="#203a18"/></g>
</g>
<text class="t1" transform="translate(843.9 394.5) scale(1.008 1)">Army</text>
<text class="t2" transform="translate(843.2 465.9) scale(1.04 1)">Size</text>
<text class="t3" transform="translate(835.4 626) scale(0.889 1)">1887</text>
</svg>
</body>
</html>
